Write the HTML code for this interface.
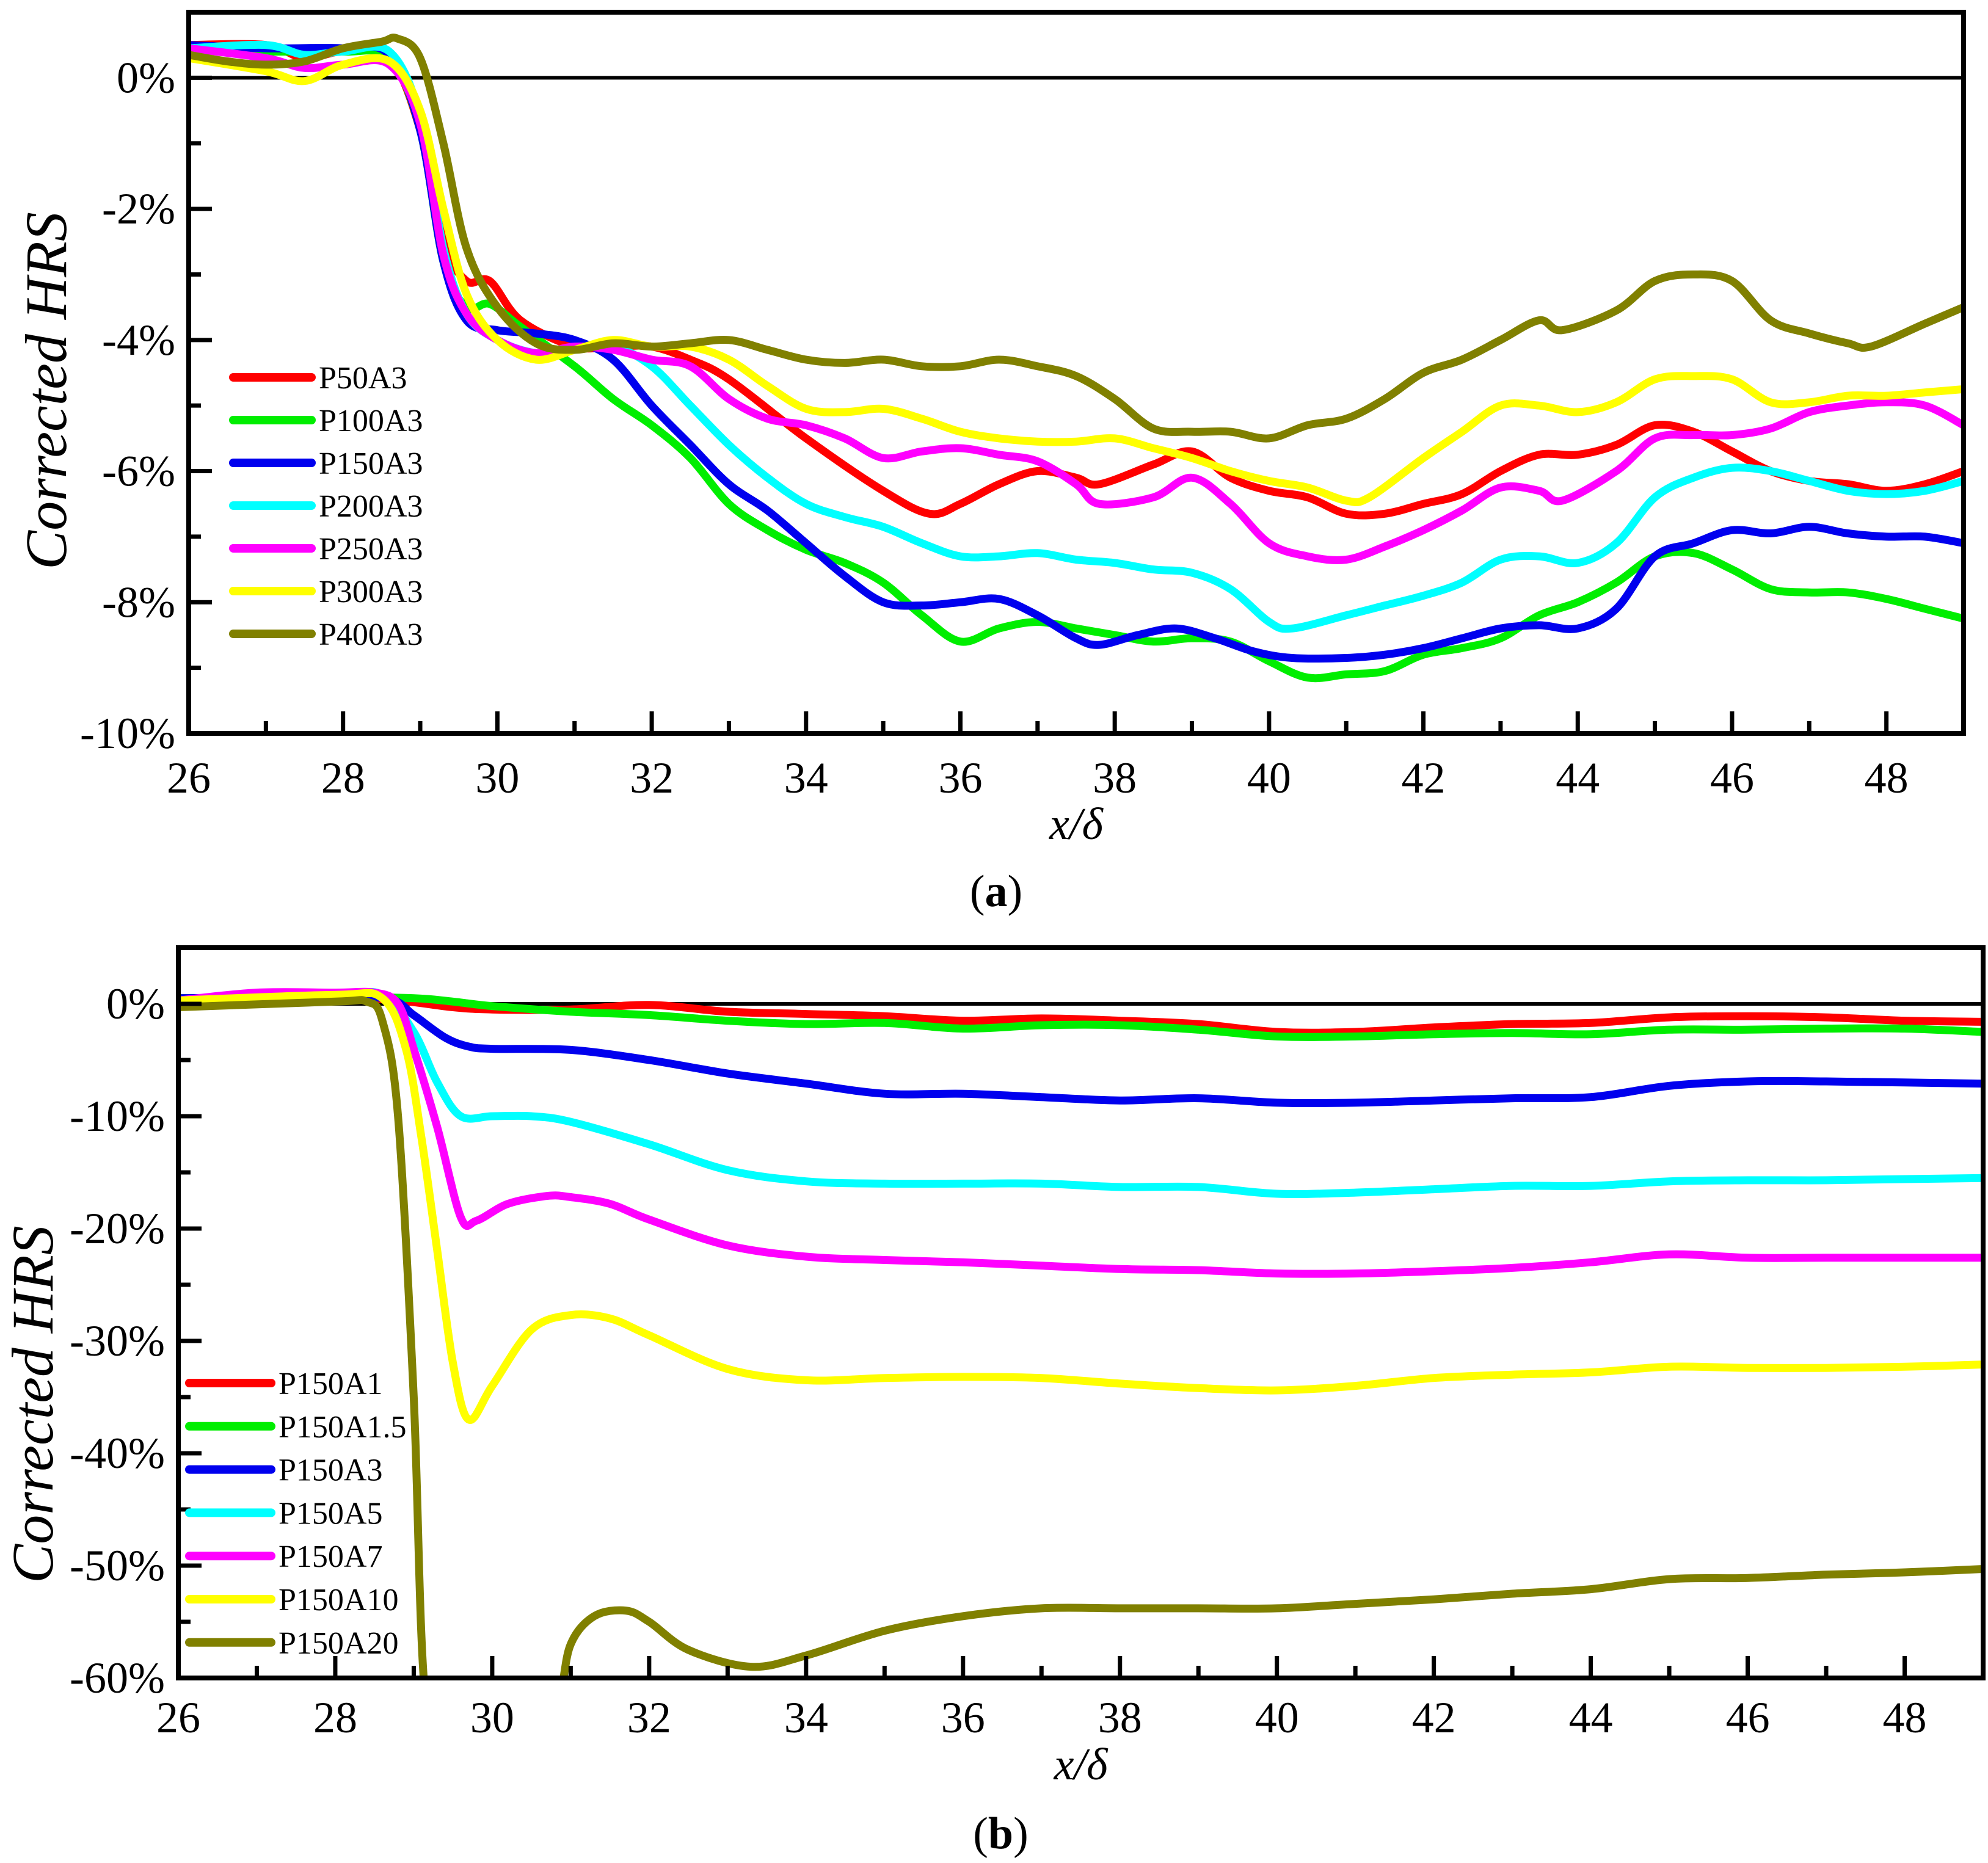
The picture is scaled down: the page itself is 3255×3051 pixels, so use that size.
<!DOCTYPE html>
<html><head><meta charset="utf-8"><style>
body{margin:0;background:#fff}
svg{display:block}
text{font-family:"Liberation Serif","DejaVu Serif",serif;fill:#000}
</style></head><body>
<svg id="svg" width="3255" height="3051" viewBox="0 0 3255 3051"></svg>
<script>
const xTicks=[26,28,30,32,34,36,38,40,42,44,46,48];
const aTicks=[0,-2,-4,-6,-8,-10];
const bTicks=[0,-10,-20,-30,-40,-50,-60];
const aNames=["P50A3","P100A3","P150A3","P200A3","P250A3","P300A3","P400A3"];
const bNames=["P150A1","P150A1.5","P150A3","P150A5","P150A7","P150A10","P150A20"];
const colors=["#ff0000","#00ee00","#0000ee","#00ffff","#ff00ff","#ffff00","#808000"];
const aX0=[26,27,27.5,28,28.6,29,29.3,29.6,29.9,30.3,31,31.5,32,32.5,33,34,35,35.6,36,36.5,37,37.5,37.8,38.5,39,39.5,40,40.5,41,41.5,42,42.5,43,43.5,44,44.5,45,45.5,46,46.5,47,47.5,48,48.5,49];
const aY0=[0.5,0.5,0.3,0.4,0.3,-0.8,-2.5,-3.1,-3.1,-3.7,-4.1,-4.1,-4.1,-4.3,-4.6,-5.5,-6.3,-6.65,-6.5,-6.2,-6.0,-6.1,-6.2,-5.9,-5.7,-6.1,-6.3,-6.4,-6.65,-6.65,-6.5,-6.35,-6.0,-5.75,-5.75,-5.6,-5.3,-5.4,-5.7,-6.0,-6.15,-6.2,-6.3,-6.2,-6.0];
const aX1=[26,27,28,28.6,29,29.3,29.6,29.9,30.3,31,31.5,32,32.5,33,33.5,34,34.5,35,35.5,36,36.5,37,37.5,38,38.5,39,39.5,40,40.5,41,41.5,42,42.5,43,43.5,44,44.5,45,45.5,46,46.5,47,47.5,48,48.5,49];
const aY1=[0.45,0.4,0.4,0.3,-0.8,-2.8,-3.5,-3.45,-3.8,-4.4,-4.9,-5.3,-5.8,-6.5,-6.9,-7.2,-7.4,-7.7,-8.2,-8.6,-8.4,-8.3,-8.4,-8.5,-8.6,-8.55,-8.6,-8.9,-9.15,-9.1,-9.05,-8.8,-8.7,-8.55,-8.2,-8.0,-7.7,-7.3,-7.25,-7.5,-7.8,-7.85,-7.85,-7.95,-8.1,-8.25];
const aX2=[26,27,28,28.6,29,29.3,29.6,30,30.5,31,31.5,32,32.5,33,33.5,34,34.5,35,35.5,36,36.5,37,37.5,37.8,38.3,38.8,39.3,39.8,40.3,41,41.5,42,42.5,43,43.5,44,44.5,45,45.5,46,46.5,47,47.5,48,48.5,49];
const aY2=[0.5,0.45,0.45,0.35,-0.8,-2.8,-3.7,-3.85,-3.9,-4.0,-4.3,-5.0,-5.6,-6.2,-6.6,-7.1,-7.6,-8.0,-8.05,-8.0,-7.95,-8.2,-8.55,-8.65,-8.5,-8.4,-8.55,-8.75,-8.85,-8.85,-8.8,-8.7,-8.55,-8.4,-8.35,-8.4,-8.1,-7.3,-7.1,-6.9,-6.95,-6.85,-6.95,-7.0,-7.0,-7.1];
const aX3=[26,27,27.5,28,28.6,29,29.3,29.6,30,30.5,31,31.5,32,32.5,33,33.5,34,34.5,35,35.5,36,36.5,37,37.5,38,38.5,39,39.5,40,40.3,41,41.5,42,42.5,43,43.5,44,44.5,45,45.5,46,46.5,47,47.5,48,48.5,49];
const aY3=[0.45,0.5,0.35,0.4,0.4,-0.6,-2.6,-3.6,-4.0,-4.2,-4.15,-4.1,-4.4,-5.0,-5.6,-6.1,-6.5,-6.7,-6.85,-7.1,-7.3,-7.3,-7.25,-7.35,-7.4,-7.5,-7.55,-7.8,-8.3,-8.4,-8.2,-8.05,-7.9,-7.7,-7.35,-7.3,-7.4,-7.1,-6.4,-6.1,-5.95,-6.0,-6.15,-6.3,-6.35,-6.3,-6.15];
const aX4=[26,27,27.5,28,28.6,29,29.3,29.6,30,30.5,31,31.5,32,32.5,33,33.5,34,34.5,35,35.5,36,36.5,37,37.5,37.8,38.5,39,39.5,40,40.5,41,41.5,42,42.5,43,43.5,43.8,44.5,45,45.5,46,46.5,47,47.5,48,48.5,49];
const aY4=[0.45,0.3,0.15,0.2,0.2,-0.7,-2.7,-3.6,-4.0,-4.2,-4.1,-4.15,-4.3,-4.4,-4.9,-5.2,-5.3,-5.5,-5.8,-5.7,-5.65,-5.75,-5.85,-6.2,-6.5,-6.4,-6.1,-6.5,-7.1,-7.3,-7.35,-7.15,-6.9,-6.6,-6.25,-6.3,-6.45,-6.0,-5.5,-5.45,-5.45,-5.35,-5.1,-5.0,-4.95,-5.0,-5.3];
const aX5=[26,27,27.5,28,28.6,29,29.3,29.6,30,30.5,31,31.5,32,32.5,33,33.5,34,34.5,35,35.5,36,36.5,37,37.5,38,38.5,39,39.5,40,40.5,41,41.3,42,42.5,43,43.5,44,44.5,45,45.5,46,46.5,47,47.5,48,48.5,49];
const aY5=[0.3,0.1,-0.05,0.2,0.25,-0.5,-2.0,-3.3,-4.0,-4.3,-4.15,-4.0,-4.1,-4.1,-4.3,-4.7,-5.05,-5.1,-5.05,-5.2,-5.4,-5.5,-5.55,-5.55,-5.5,-5.65,-5.8,-6.0,-6.15,-6.25,-6.45,-6.4,-5.8,-5.4,-5.0,-5.0,-5.1,-4.95,-4.6,-4.55,-4.6,-4.95,-4.95,-4.85,-4.85,-4.8,-4.75];
const aX6=[26,26.5,27,27.5,28,28.5,28.7,29,29.3,29.6,30,30.5,31,31.5,32,32.5,33,33.5,34,34.5,35,35.5,36,36.5,37,37.5,38,38.5,39,39.5,40,40.5,41,41.5,42,42.5,43,43.5,43.8,44.5,45,45.5,46,46.5,47,47.5,47.8,48.5,49];
const aY6=[0.35,0.25,0.2,0.25,0.45,0.55,0.6,0.3,-1.0,-2.6,-3.5,-4.05,-4.15,-4.05,-4.1,-4.05,-4.0,-4.15,-4.3,-4.35,-4.3,-4.4,-4.4,-4.3,-4.4,-4.55,-4.9,-5.35,-5.4,-5.4,-5.5,-5.3,-5.2,-4.9,-4.5,-4.3,-4.0,-3.7,-3.85,-3.55,-3.1,-3.0,-3.1,-3.7,-3.9,-4.05,-4.1,-3.75,-3.5];
const bX0=[26,28,28.8,29.5,30,31,32,33,34,35,36,37,38,39,40,41,42,43,44,45,46,47,48,49];
const bY0=[0.5,0.5,0.3,-0.3,-0.5,-0.5,-0.1,-0.7,-0.9,-1.1,-1.5,-1.3,-1.5,-1.8,-2.5,-2.5,-2.1,-1.8,-1.7,-1.2,-1.1,-1.2,-1.5,-1.6];
const bX1=[26,28,29,29.5,30,31,32,33,34,35,36,37,38,39,40,41,42,43,44,45,46,47,48,49];
const bY1=[0.5,0.6,0.5,0.2,-0.2,-0.7,-1.0,-1.5,-1.8,-1.7,-2.2,-1.9,-1.9,-2.3,-2.9,-2.9,-2.7,-2.6,-2.7,-2.3,-2.3,-2.2,-2.2,-2.5];
const bX2=[26,28,28.7,29,29.4,29.7,30,31,32,33,34,35,36,37,38,39,40,41,42,43,44,45,46,47,48,49];
const bY2=[0.5,0.6,0.4,-1.0,-3.0,-3.8,-4.0,-4.1,-5.0,-6.2,-7.1,-8.0,-8.0,-8.3,-8.6,-8.4,-8.8,-8.8,-8.6,-8.4,-8.3,-7.3,-6.9,-6.9,-7.0,-7.1];
const bX3=[26,28,28.6,29,29.3,29.6,30,30.5,31,32,33,34,35,36,37,38,39,40,41,42,43,44,45,46,47,48,49];
const bY3=[0.3,0.8,0.8,-2.5,-7.0,-10.0,-10.0,-10.0,-10.5,-12.5,-14.8,-15.8,-16.0,-16.0,-16.0,-16.3,-16.3,-16.9,-16.8,-16.5,-16.2,-16.2,-15.8,-15.7,-15.7,-15.6,-15.5];
const bX4=[26,27,28,28.5,28.8,29,29.3,29.6,29.8,30.2,30.7,31,31.5,32,33,34,35,36,37,38,39,40,41,42,43,44,45,46,47,48,49];
const bY4=[0.3,1.0,1.0,1.0,0.0,-4.0,-11.0,-19.0,-19.3,-17.8,-17.1,-17.2,-17.8,-19.2,-21.5,-22.5,-22.8,-23.0,-23.3,-23.6,-23.7,-24.0,-24.0,-23.8,-23.5,-23.0,-22.3,-22.6,-22.6,-22.6,-22.6];
const bX5=[26,28,28.6,28.9,29.1,29.3,29.5,29.7,30,30.5,31,31.5,32,33,34,35,36,37,38,39,40,41,42,43,44,45,46,47,48,49];
const bY5=[0.3,0.8,0.5,-4.0,-12.0,-22.0,-32.0,-37.0,-34.0,-29.0,-27.7,-28.0,-29.5,-32.5,-33.5,-33.3,-33.2,-33.3,-33.8,-34.2,-34.4,-34.0,-33.3,-33.0,-32.8,-32.3,-32.4,-32.4,-32.3,-32.1];
const bX6=[26,28,28.4,28.6,28.8,29.0,29.15,29.5,30.5,30.85,31.0,31.3,31.7,32,32.5,33.3,34,35,36,37,38,39,40,41,42,43,44,45,46,47,48,49];
const bY6=[-0.3,0.2,0.2,-1.5,-10.0,-35.0,-62,-70,-70,-62,-57,-54.5,-54.0,-55.0,-57.5,-59.0,-58,-55.8,-54.5,-53.8,-53.8,-53.8,-53.8,-53.4,-53.0,-52.5,-52.1,-51.2,-51.1,-50.8,-50.6,-50.3];

const NS="http://www.w3.org/2000/svg";
const FONT='"Liberation Serif","DejaVu Serif",serif';
const svg=document.getElementById('svg');
function mk(tag,at,parent){const e=document.createElementNS(NS,tag);for(const k in at)e.setAttribute(k,at[k]);(parent||svg).appendChild(e);return e;}
function smooth(pts){let d="M"+pts[0][0].toFixed(1)+","+pts[0][1].toFixed(1);
 for(let i=0;i<pts.length-1;i++){const p0=pts[i-1]||pts[i],p1=pts[i],p2=pts[i+1],p3=pts[i+2]||p2;
  const c1=[p1[0]+(p2[0]-p0[0])/6,p1[1]+(p2[1]-p0[1])/6],c2=[p2[0]-(p3[0]-p1[0])/6,p2[1]-(p3[1]-p1[1])/6];
  d+="C"+c1[0].toFixed(1)+","+c1[1].toFixed(1)+" "+c2[0].toFixed(1)+","+c2[1].toFixed(1)+" "+p2[0].toFixed(1)+","+p2[1].toFixed(1);}
 return d;}

function panel(o){
 const sx=v=>o.L+(v-26)/(49-26)*(o.R-o.L);
 const sy=v=>o.T+(o.ymax-v)/(o.ymax-o.ymin)*(o.B-o.T);
 const g=mk('g',{'font-family':FONT});
 
 
 const cid='clip-'+o.id;
 const cp=mk('clipPath',{id:cid},g);mk('rect',{x:o.L,y:o.T,width:o.R-o.L,height:o.B-o.T},cp);
 const z=mk('line',{x1:o.L,x2:o.R,y1:sy(0),y2:sy(0),stroke:'#000','stroke-width':6},g);
 
 
 const sg=mk('g',{'clip-path':'url(#'+cid+')'},g);
 for(let i=0;i<o.xs.length;i++){
  const pts=o.xs[i].map((x,j)=>[sx(x),sy(o.ys[i][j])]);
  const p=mk('path',{d:smooth(pts),fill:'none',stroke:colors[i],'stroke-width':13,'stroke-linejoin':'round','stroke-linecap':'round'},sg);
  
  
 }
 const f=mk('rect',{x:o.L,y:o.T,width:o.R-o.L,height:o.B-o.T,fill:'none',stroke:'#000','stroke-width':8},g);
 
 
 for(let v=26;v<=49;v++){const X=sx(v),maj=xTicks.includes(v);
  mk('line',{x1:X,x2:X,y1:o.B,y2:o.B-(maj?36:20),stroke:'#000','stroke-width':7},g);}
 xTicks.forEach(v=>{const t=mk('text',{x:sx(v),y:o.xlabY,'font-size':72,'text-anchor':'middle','font-family':FONT},g);t.textContent=v;
  
  });
 for(let v=o.ymin;v<=0;v+=o.minor){const Y=sy(v),maj=o.yt.includes(Math.round(v*100)/100);
  mk('line',{x1:o.L,x2:o.L+(maj?38:20),y1:Y,y2:Y,stroke:'#000','stroke-width':7},g);}
 o.yt.forEach(v=>{const t=mk('text',{x:o.L-22,y:sy(v)+24,'font-size':72,'text-anchor':'end','font-family':FONT},g);t.textContent=v+'%';
  
  });
 const yt=mk('text',{x:0,y:0,'font-size':96,'font-style':'italic','text-anchor':'middle','font-family':FONT,transform:`translate(${o.ytx},${o.yty}) rotate(-90)`},g);
 yt.textContent='Corrected HRS';
 
 
 const xt=mk('text',{x:(o.L+o.R)/2,y:o.xtY,'font-size':74,'font-style':'italic','text-anchor':'middle','font-family':FONT},g);
 xt.textContent='x/δ';
 
 
 const cap=mk('text',{x:(o.L+o.R)/2-131,y:o.capY,'font-size':74,'text-anchor':'middle','font-family':FONT},g);
 cap.innerHTML='(<tspan font-weight="bold">'+o.cap+'</tspan>)';
 
 
 o.names.forEach((n,i)=>{const Y=o.legY+i*o.legD;
  const l=mk('line',{x1:o.legX,x2:o.legX+(o.legW),y1:Y,y2:Y,stroke:colors[i],'stroke-width':14,'stroke-linecap':'round'},g);
  
  
  const t=mk('text',{x:o.legX+o.legW+12,y:Y+18,'font-size':52,'font-family':FONT},g);t.textContent=n;
  
  });
}
panel({id:'panel-a',L:309,R:3215,T:20,B:1201,ymin:-10,ymax:1,yt:aTicks,minor:1,names:aNames,
 xs:[aX0,aX1,aX2,aX3,aX4,aX5,aX6],ys:[aY0,aY1,aY2,aY3,aY4,aY5,aY6],
 xlabY:1298,xtY:1374,capY:1484,ytx:108,yty:640,legX:382,legW:128,legY:618,legD:70,cap:'a'});
panel({id:'panel-b',L:292,R:3247,T:1552,B:2748,ymin:-60,ymax:5,yt:bTicks,minor:5,names:bNames,
 xs:[bX0,bX1,bX2,bX3,bX4,bX5,bX6],ys:[bY0,bY1,bY2,bY3,bY4,bY5,bY6],
 xlabY:2837,xtY:2914,capY:3027,ytx:86,yty:2300,legX:310,legW:134,legY:2265,legD:70.8,cap:'b'});
</script>
</body></html>
